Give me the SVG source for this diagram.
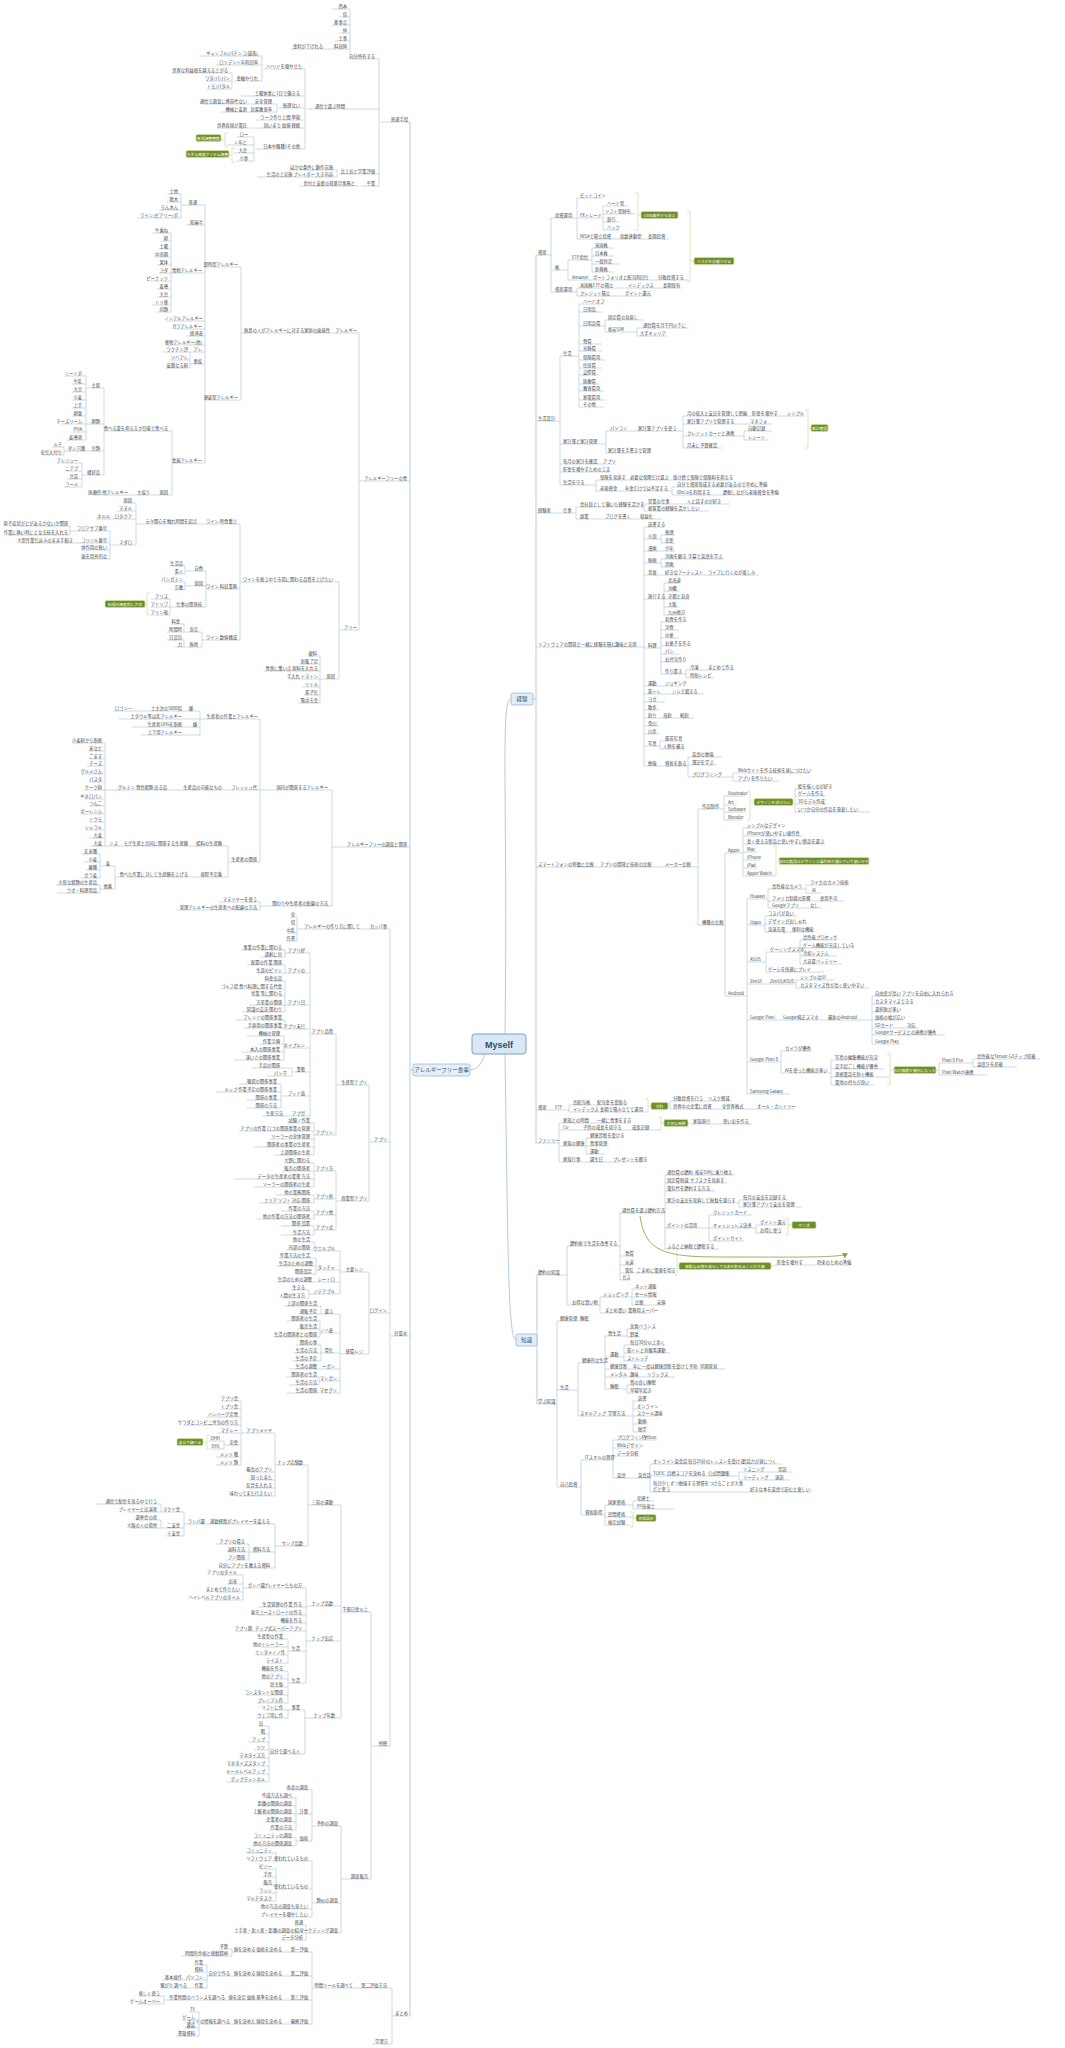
<svg xmlns="http://www.w3.org/2000/svg" width="1065" height="2048" viewBox="0 0 1065 2048">
<defs>
<style>
text{font-family:"Noto Sans CJK JP","Noto Sans",sans-serif;font-size:4.3px;fill:#4a4a4a}
.l{text-anchor:end}
.u{fill:none;stroke:#a9c2da;stroke-width:.6}
.m{fill:none;stroke:#b6cbe0;stroke-width:1}
.b{fill:none;stroke:#d9dcae;stroke-width:.8}
.gb{fill:#6e8e28;stroke:#d4e0a0;stroke-width:.7}
.gt{fill:#fff;font-size:3.8px;text-anchor:middle}
.box{fill:#e3eef8;stroke:#8fb0d0;stroke-width:.7}
.mt{font-size:5.5px;fill:#2f4f6f;text-anchor:middle}
</style>
<marker id="ar" markerWidth="6" markerHeight="6" refX="4" refY="3" orient="auto" markerUnits="userSpaceOnUse"><path d="M0,0 L5,3 L0,6z" fill="#8a9c3a"/></marker>
</defs>
<rect width="1065" height="2048" fill="#fff"/>

<g id="connectors">
<path class="m" d="M410 122V2016M536 255V1143M537 1275V1404M413 1070H410M533 699H536M485 1054Q480 1070 470 1070M505 1034C508 800 500 699 511 699M505 1054C508 1250 508 1340 516 1340"/>
<path class="u" d="M350 9V59M232 73V89M262 56V81M277 104V112M254 137V161M305 69V149M337 170V177M379 59V186M181 194V218M171 233V312M205 205V463M190 352V368M241 267V400M359 333V630M86 376V440M64 447V455M82 463V487M104 388V475M172 431V495M70 526V535M136 503V545M110 531V559M185 566V574M185 582V590M170 599V615M206 571V607M184 624V632M184 640V647M202 632V647M240 524V640M339 582V679M320 656V703M200 711V735M105 743V846M100 854V878M100 885V893M115 866V889M228 846V877M260 719V862M260 902V910M332 790V906M297 917V941M285 950V957M285 965V973M285 981V1012M285 1020V1028M284 1036V1060M292 1068V1076M281 1084V1108M310 953V1116M314 1123V1155M314 1163V1187M314 1195V1203M314 1211V1219M314 1226V1235M336 1034V1135M336 1171V1230M369 1085V1201M314 1242V1250M316 1258V1274M309 1290V1298M340 1251V1294M321 1306V1314M320 1321V1337M321 1345V1361M319 1377V1385M340 1314V1393M369 1272V1354M390 929V1746M241 1401V1465M224 1441V1449M275 1433V1496M161 1504V1512M161 1520V1528M184 1512V1536M249 1544V1560M275 1524V1568M308 1465V1546M243 1575V1600M306 1588V1683M288 1639V1663M288 1671V1703M288 1710V1718M269 1726V1782M305 1710V1754M341 1505V1718M296 1798V1830M296 1838V1846M312 1790V1841M276 1853V1861M276 1869V1901M312 1861V1917M306 1925V1940M341 1826V1933M371 1612V1879M232 1949V1956M207 1965V1988M164 1996V2004M199 2012V2036M312 1952V2024M392 1988V2044"/>
<path class="u" d="M551 218V292M577 198V239M603 206V230M568 260V280M592 248V272M577 288V296M560 356V485M579 304V407M605 320V332M637 328V336M606 431V453M683 416V448M744 431V440M596 480V491M672 487V495M576 507V519M644 504V511M644 527V766M661 535V543M661 559V567M664 583V615M661 622V674M686 670V678M660 741V749M688 757V777M733 773V781M698 809V925M724 796V820M795 789V812M725 853V996M743 828V876M747 899V1094M768 889V908M806 885V893M765 916V932M766 952V972M800 940V964M796 980V988M872 996V1044M781 1051V1073M831 1060V1085M973 1059V1067M939 1063V1075M569 1105V1112M670 1101V1109M559 1123V1162M586 1138V1154M665 1175V1249M739 1200V1207M709 1215V1241M756 1225V1233M620 1213V1280M567 1246V1305M600 1297V1313M632 1289V1305M557 1321V1487M578 1363V1416M605 1336V1389M627 1329V1337M624 1345V1361M627 1385V1393M633 1401V1432M581 1460V1515M613 1440V1478M650 1464V1492M739 1472V1480M605 1505V1525M633 1501V1509"/>
<path class="b" d="M228 133H225V147H228M225 140H221M235 148H232V162H235M232 155H229M150 593H147V615H150M147 604H145M210 1435H207V1449H210M207 1442H203M635 193H638V230H635M638 215H641M687 211H690V282H687M690 261H694M805 410H808V448H805M808 428H811M747 791H750V820H747M750 802H754M773 846H776V876H773M776 861H779M887 1054H890V1085H887M890 1070H894M936 1070H939M645 1099H648V1112H645M648 1106H651M668 1106H670M658 1117H661V1130H658M661 1123H664M688 1123H690M785 1218H788V1235H785M788 1225H792M674 1248H677V1275H674M677 1266H679M771 1266H774M630 1512H633V1527H630M633 1518H636"/>
<path d="M640 1216C645 1252 665 1257 720 1257C790 1257 838 1258 847 1254" fill="none" stroke="#8a9c3a" stroke-width=".8" marker-end="url(#ar)"/>
</g>

<g id="center"><rect x="472" y="1034" width="54" height="20" rx="3" fill="#dae7f4" stroke="#7d9fc4" stroke-width="1"/><text x="499" y="1047.5" style="font-size:9px;font-weight:bold;fill:#2f4f6f;text-anchor:middle;font-family:'Liberation Sans',sans-serif">Myself</text></g>
<g id="main-left"><rect class="box" x="413" y="1064" width="57" height="12" rx="2"/><text class="mt" x="441.5" y="1072">アレルギーフリー食事</text></g>
<g id="main-keiken"><rect class="box" x="511" y="693" width="22" height="12" rx="2"/><text class="mt" x="522" y="701">経験</text></g>
<g id="main-chishiki"><rect class="box" x="516" y="1334" width="21" height="12" rx="2"/><text class="mt" x="526.5" y="1342">知識</text></g>

<g id="green-labels">
<rect class="gb" x="196" y="134.5" width="25" height="7" rx="1.5"/><text class="gt" x="208.5" y="139.5">家具調整整数</text>
<rect class="gb" x="186" y="150.5" width="43" height="7" rx="1.5"/><text class="gt" x="207.5" y="155.5">大きな家庭アイテム調整</text>
<rect class="gb" x="105" y="600.5" width="40" height="7" rx="1.5"/><text class="gt" x="125" y="605.5">料理の調査的に大切</text>
<rect class="gb" x="177" y="1438.5" width="26" height="7" rx="1.5"/><text class="gt" x="190" y="1443.5">自分で調べる</text>
<rect class="gb" x="641" y="211.5" width="37" height="7" rx="1.5"/><text class="gt" x="659.5" y="216.5">Luna事件から学ぶ</text>
<rect class="gb" x="694" y="257.5" width="40" height="7" rx="1.5"/><text class="gt" x="714" y="262.5">リスクを分散させる</text>
<rect class="gb" x="811" y="424.5" width="17" height="7" rx="1.5"/><text class="gt" x="819.5" y="429.5">家計管理</text>
<rect class="gb" x="754" y="798.5" width="39" height="7" rx="1.5"/><text class="gt" x="773.5" y="803.5">デザインを学びたい</text>
<rect class="gb" x="779" y="857.5" width="90" height="7" rx="1.5"/><text class="gt" x="824" y="862.5">Appleの製品はデザインと操作性が優れていて使いやすい</text>
<rect class="gb" x="894" y="1066.5" width="42" height="7" rx="1.5"/><text class="gt" x="915" y="1071.5">AIの機能が便利になった</text>
<rect class="gb" x="651" y="1102.5" width="17" height="7" rx="1.5"/><text class="gt" x="659.5" y="1107.5">方針</text>
<rect class="gb" x="664" y="1119.5" width="24" height="7" rx="1.5"/><text class="gt" x="676" y="1124.5">大切な時間</text>
<rect class="gb" x="792" y="1221.5" width="24" height="7" rx="1.5"/><text class="gt" x="804" y="1226.5">ポイ活</text>
<rect class="gb" x="679" y="1262.5" width="92" height="7" rx="1.5"/><text class="gt" x="725" y="1267.5">無駄な出費を減らしてお金を貯めることが大事</text>
<rect class="gb" x="636" y="1514.5" width="20" height="7" rx="1.5"/><text class="gt" x="646" y="1519.5">目標設定</text>
</g>

<g id="left-tree">
<path class="u" d="M332 9H350M339 17H350M332 25H350M339 33H350M335 41H350M332 49H350M291 49H332M352 59H379M199 56H262M216 65H262M171 73H232M206 81H232M234 81H262M207 89H232M264 69H305M241 96H305M202 104H254M254 104H277M221 112H252M251 112H277M279 108H305M256 120H305M217 128H252M254 128H305M237 137H254M227 145H254M234 153H254M236 161H254M256 149H305M307 109H379M289 170H337M257 177H337M339 174H379M299 186H359M361 186H379M381 122H410"/>
<text class="l" x="347" y="7.5">西本</text><text class="l" x="347" y="15.5">倍</text><text class="l" x="347" y="23.5">奥事点</text><text class="l" x="347" y="31.5">仲</text><text class="l" x="347" y="39.5">土事</text><text class="l" x="347" y="47.5">料宿伸</text><text class="l" x="323" y="47.5">金利が下げれる</text><text class="l" x="375" y="57.5">自分所有する</text>
<text class="l" x="258" y="54.5">ギャンブル(パチンコ/競馬)</text><text class="l" x="258" y="63.5">ロリデント年利回率</text><text class="l" x="228" y="71.5">世界な利益損を越える上がる</text><text class="l" x="230" y="79.5">ワタ/パ/パン</text><text class="l" x="258" y="79.5">金融やりれ</text><text class="l" x="230" y="87.5">トモ/パタル</text><text class="l" x="302" y="67.5">ハハ/ドを増やせた</text>
<text class="l" x="300" y="94.5">土曜休事に1日で働きる</text><text class="l" x="247" y="102.5">通信で調査に携帯代ない</text><text class="l" x="272" y="102.5">安全管理</text><text class="l" x="247" y="110.5">機械と変更</text><text class="l" x="272" y="110.5">効果教育率</text><text class="l" x="300" y="106.5">無理ない</text><text class="l" x="300" y="118.5">ワーク作り上間 単現</text><text class="l" x="247" y="126.5">世界各国が電圧</text><text class="l" x="300" y="126.5">固いまで 価値 経緯</text>
<text class="l" x="248" y="135.5">ロー</text><text class="l" x="247" y="143.5">ン年と</text><text class="l" x="247" y="151.5">大企</text><text class="l" x="248" y="159.5">小事</text><text class="l" x="300" y="147.5">日本や職種1その他</text><text class="l" x="345" y="107.5">通信で選ぶ時間</text>
<text class="l" x="333" y="168.5">ほかな条件に動作実施</text><text class="l" x="333" y="175.5">生活の上実施 プレイボー 大き内容</text><text class="l" x="375" y="172.5">比上おと学業評価</text><text class="l" x="355" y="184.5">世付と支援の発進月事務と</text><text class="l" x="375" y="184.5">平業</text><text class="l" x="408" y="120.5">普通手段</text>

<path class="u" d="M167 194H181M167 202H181M159 210H181M137 218H181M181 205H205M186 225H205M152 233H171M161 241H171M159 249H171M154 257H171M157 265H171M159 273H171M151 281H171M157 289H171M157 297H171M152 305H171M157 312H171M171 273H205M166 321H205M176 329H205M186 336H205M166 345H205M205 267H241M241 333H335M335 333H359M162 352H190M190 352H205M169 360H190M166 368H190M190 364H205M205 400H241M64 376H86M72 384H86M72 392H86M72 400H86M72 408H86M72 416H86M86 388H104M61 424H86M71 432H86M67 440H86M86 424H104M52 447H64M42 455H64M64 451H88M88 451H104M57 463H82M67 471H82M67 479H82M64 487H82M82 475H104M104 431H172M92 495H134M134 495H154M154 495H172M172 463H205M359 481H410"/>
<text class="l" x="178" y="192.5">土他</text><text class="l" x="178" y="200.5">喝木</text><text class="l" x="178" y="208.5">らん木ん</text><text class="l" x="178" y="216.5">ワイン/ビアリー/ボ</text><text class="l" x="197" y="203.5">普通</text><text class="l" x="203" y="223.5">知麻半</text>
<text class="l" x="168" y="231.5">牛乗ね</text><text class="l" x="168" y="239.5">卵</text><text class="l" x="168" y="247.5">土曜</text><text class="l" x="168" y="255.5">中雨期</text><text class="l" x="168" y="263.5">果体</text><text class="l" x="168" y="271.5">ヨダ</text><text class="l" x="168" y="279.5">ピーナッツ</text><text class="l" x="168" y="287.5">麦塔</text><text class="l" x="168" y="295.5">大豆</text><text class="l" x="168" y="303.5">トリ薬</text><text class="l" x="168" y="310.5">肉類</text>
<text class="l" x="202" y="271.5">食物アレルギー</text><text class="l" x="203" y="319.5">ノンアルアレルギー</text><text class="l" x="202" y="327.5">ガラアレルギー</text><text class="l" x="203" y="334.5">経済表</text><text class="l" x="202" y="343.5">薬物アレルギー(他)</text><text class="l" x="238" y="265.5">即時型アレルギー</text><text class="l" x="330" y="331.5">無意の人がアレルギーに対する家庭の歯能性</text><text class="l" x="357" y="331.5">アレルギー</text>
<text class="l" x="188" y="350.5">ワクチン評</text><text class="l" x="202" y="350.5">アレ</text><text class="l" x="188" y="358.5">ソバアレ</text><text class="l" x="188" y="366.5">皮膚なる粉</text><text class="l" x="202" y="362.5">患疾</text><text class="l" x="238" y="398.5">遅延型アレルギー</text>
<text class="l" x="82" y="374.5">ミートボ</text><text class="l" x="82" y="382.5">牛乳</text><text class="l" x="82" y="390.5">大豆</text><text class="l" x="82" y="398.5">小麦</text><text class="l" x="82" y="406.5">上手</text><text class="l" x="82" y="414.5">卵类</text><text class="l" x="100" y="386.5">主原</text>
<text class="l" x="82" y="422.5">チーズリーム</text><text class="l" x="82" y="430.5">PHA</text><text class="l" x="82" y="438.5">麦塔港</text><text class="l" x="100" y="422.5">卵類</text><text class="l" x="62" y="445.5">ルチ</text><text class="l" x="62" y="453.5">全豆入付り</text><text class="l" x="85" y="449.5">ダシ穴種</text><text class="l" x="100" y="449.5">豆類</text>
<text class="l" x="78" y="461.5">アレジュー</text><text class="l" x="78" y="469.5">ニアプ</text><text class="l" x="78" y="477.5">豆苗</text><text class="l" x="78" y="485.5">ラーメ</text><text class="l" x="100" y="473.5">嗜好品</text><text class="l" x="168" y="429.5">食べる量を抑えるか尽能で食べる</text>
<text class="l" x="128" y="493.5">医療的 他アレルギー</text><text class="l" x="150" y="493.5">主疾り</text><text class="l" x="168" y="493.5">原因</text><text class="l" x="202" y="461.5">金属アレルギー</text><text class="l" x="407" y="479.5">アレルギーフリーの食</text>

<path class="u" d="M122 503H136M117 511H136M96 519H115M115 519H136M110 545H136M9 526H70M7 535H70M70 531H110M21 543H77M77 543H110M81 550H110M81 559H110M136 524H200M200 524H240M169 566H185M174 574H185M185 571H206M164 582H185M174 590H185M185 586H206M151 599H170M151 607H170M151 615H170M170 607H206M206 589H240M171 624H184M167 632H184M184 632H202M167 640H184M175 647H184M184 647H202M202 640H240M240 582H339M339 630H359M307 656H320M299 664H320M264 671H320M289 679H320M302 687H320M304 695H320M299 703H320M320 679H339"/>
<text class="l" x="132" y="501.5">原因</text><text class="l" x="132" y="509.5">マヌル</text><text class="l" x="110" y="517.5">ネルル</text><text class="l" x="132" y="517.5">ロタクア</text><text class="l" x="132" y="543.5">マダロ</text>
<text class="l" x="68" y="524.5">原子症状がとがあるかないか関係</text><text class="l" x="68" y="533.5">作業に熱い時にとなる技を入れる</text><text class="l" x="107" y="529.5">フロアサブ番号</text><text class="l" x="73" y="541.5">大型作業仕込みのまま手続き</text><text class="l" x="107" y="541.5">コリジル番号</text><text class="l" x="107" y="548.5">体作用の無い</text><text class="l" x="107" y="557.5">歯を用具的な</text>
<text class="l" x="197" y="522.5">元々関心を触れ時間を起点</text><text class="l" x="237" y="522.5">ワイン 時食重さ</text><text class="l" x="183" y="564.5">生活品</text><text class="l" x="183" y="572.5">素人</text><text class="l" x="203" y="569.5">自然</text><text class="l" x="183" y="580.5">パンガテン</text><text class="l" x="183" y="588.5">宗教</text><text class="l" x="203" y="584.5">原因</text>
<text class="l" x="168" y="597.5">アリス</text><text class="l" x="168" y="605.5">アドリブ</text><text class="l" x="168" y="613.5">アリン後</text><text class="l" x="202" y="605.5">仕事の関係技</text><text class="l" x="237" y="587.5">ワイン 料員業務</text>
<text class="l" x="180" y="622.5">料金</text><text class="l" x="182" y="630.5">時間時</text><text class="l" x="198" y="630.5">良空</text><text class="l" x="182" y="638.5">日品包</text><text class="l" x="182" y="645.5">力</text><text class="l" x="198" y="645.5">無地</text><text class="l" x="237" y="638.5">ワイン 数値構成</text>
<text class="l" x="333" y="580.5">ワインを扱う中で市場に関わる品質を上げたい</text><text class="l" x="357" y="628.5">アリー</text>
<text class="l" x="317" y="654.5">複料</text><text class="l" x="318" y="662.5">新販了定</text><text class="l" x="318" y="669.5">食事に重い点 原料を入れる</text><text class="l" x="318" y="677.5">手入れ トマトン</text><text class="l" x="318" y="685.5">リトル</text><text class="l" x="318" y="693.5">素子化</text><text class="l" x="318" y="701.5">吸添去会</text><text class="l" x="335" y="677.5">原因</text>

<path class="u" d="M114 711H139M139 711H186M186 711H200M119 719H200M132 727H186M186 727H200M141 735H200M200 719H260M72 743H105M89 751H105M91 759H105M87 766H105M81 774H105M89 782H105M84 790H105M84 799H105M89 806H105M81 814H105M89 822H105M86 830H105M89 838H105M91 846H105M105 790H170M170 790H226M226 790H260M260 790H332M105 846H121M121 846H193M193 846H228M81 854H100M84 862H100M86 870H100M81 878H100M100 866H115M56 885H100M57 893H100M100 889H115M115 877H193M193 877H228M228 862H260M219 902H260M176 910H260M260 906H332M332 847H410"/>
<text class="l" x="132" y="709.5">ロゴン一</text><text class="l" x="182" y="709.5">土主次の5000倍</text><text class="l" x="193" y="709.5">嫌</text><text class="l" x="182" y="717.5">土タウル等は乳アレルギー</text><text class="l" x="182" y="725.5">生産者10%を取扱</text><text class="l" x="197" y="725.5">嫌</text><text class="l" x="182" y="733.5">上下用アレルギー</text><text class="l" x="258" y="717.5">生産者の作業とアレルギー</text>
<text class="l" x="102" y="741.5">小麦粉から取扱</text><text class="l" x="102" y="749.5">米など</text><text class="l" x="102" y="757.5">ごます</text><text class="l" x="102" y="764.5">チーズ</text><text class="l" x="102" y="772.5">グルメさん</text><text class="l" x="102" y="780.5">パスタ</text><text class="l" x="102" y="788.5">ケーク粉</text><text class="l" x="102" y="797.5">ギネロパン</text><text class="l" x="102" y="804.5">つんこ</text><text class="l" x="102" y="812.5">ボーレンム</text><text class="l" x="102" y="820.5">トウモ</text><text class="l" x="102" y="828.5">シャラル</text><text class="l" x="102" y="836.5">大麦</text><text class="l" x="102" y="844.5">大麦</text>
<text class="l" x="167" y="788.5">グルテン 食性穀類 出る品</text><text class="l" x="222" y="788.5">生産品の可能なもの</text><text class="l" x="257" y="788.5">フレッシュ代</text><text class="l" x="328" y="788.5">国内が関係するアレルギー</text>
<text class="l" x="118" y="844.5">ンス</text><text class="l" x="188" y="844.5">モグ生産と共同に関係する生産額</text><text class="l" x="222" y="844.5">給料の生産額</text><text class="l" x="97" y="852.5">玄米種</text><text class="l" x="97" y="860.5">小麦</text><text class="l" x="97" y="868.5">藤種</text><text class="l" x="97" y="876.5">ガラ麦</text><text class="l" x="110" y="864.5">麦</text>
<text class="l" x="97" y="883.5">大形な穀類の生産品</text><text class="l" x="97" y="891.5">ウオ・料理用品</text><text class="l" x="112" y="887.5">他番</text><text class="l" x="188" y="875.5">食べた作業に対して生産額を上げる</text><text class="l" x="222" y="875.5">規程予定番</text><text class="l" x="257" y="860.5">生産者の関係</text>
<text class="l" x="257" y="900.5">マヌリヤーを使う</text><text class="l" x="257" y="908.5">管理アレルギーの生産者への配慮の方法</text><text class="l" x="328" y="904.5">関わりや生産者の配慮の方法</text><text class="l" x="407" y="845.5">アレルギーフリーの調査と関係</text>

<path class="u" d="M291 917H297M291 925H297M287 933H297M286 941H297M297 929H364M364 929H390M241 950H285M261 957H285M285 953H310M247 965H285M257 973H285M285 973H310M264 981H285M227 989H285M252 996H285M249 1005H285M242 1012H285M285 1005H310M236 1020H285M244 1028H285M285 1029H310M247 1036H284M259 1044H284M241 1052H284M234 1060H284M284 1048H310M251 1068H292M267 1076H292M292 1072H310M239 1084H281M216 1092H281M247 1100H281M247 1108H281M281 1096H310M262 1116H289M289 1116H310M310 1034H336M287 1123H314M239 1131H314M269 1139H314M254 1147H314M274 1155H314M314 1135H336M286 1163H314M282 1171H314M234 1179H314M254 1187H314M314 1171H336M276 1195H314M259 1203H314M314 1199H336M281 1211H314M257 1219H314M314 1215H336M281 1226H314M281 1235H314M314 1230H336M336 1085H369M336 1201H369M369 1142H390"/>
<text class="l" x="295" y="915.5">全</text><text class="l" x="295" y="923.5">切</text><text class="l" x="295" y="931.5">中乳</text><text class="l" x="295" y="939.5">作書</text><text class="l" x="360" y="927.5">アレルギーの作り方に関して</text><text class="l" x="387" y="927.5">カッパ事</text>
<text class="l" x="282" y="948.5">事業の作業に関わる</text><text class="l" x="282" y="955.5">過剰に分</text><text class="l" x="305" y="951.5">アプリ好</text><text class="l" x="282" y="963.5">配置の作業 関係</text><text class="l" x="282" y="971.5">生涯のビソン</text><text class="l" x="305" y="971.5">アプリの</text>
<text class="l" x="282" y="979.5">料金出品</text><text class="l" x="282" y="987.5">ゴルフ場 食べ料理に関する代金</text><text class="l" x="282" y="994.5">世業 等に関わる</text><text class="l" x="282" y="1003.5">方美業の関係</text><text class="l" x="282" y="1010.5">知識の交流 関わり</text><text class="l" x="305" y="1003.5">アプリ日</text>
<text class="l" x="282" y="1018.5">ブレンドの関係事業</text><text class="l" x="282" y="1026.5">手直用の関係事業</text><text class="l" x="305" y="1027.5">アプリ未行</text>
<text class="l" x="280" y="1034.5">機械の管理</text><text class="l" x="280" y="1042.5">作業手順</text><text class="l" x="280" y="1050.5">本入の関係事業</text><text class="l" x="280" y="1058.5">速いさの関係事業</text><text class="l" x="305" y="1046.5">ネイプルン</text><text class="l" x="280" y="1066.5">手品の関係</text><text class="l" x="287" y="1074.5">パン千</text><text class="l" x="305" y="1070.5">業態</text>
<text class="l" x="277" y="1082.5">職場の関係事業</text><text class="l" x="277" y="1090.5">ルップ 作業予定の関係事業</text><text class="l" x="277" y="1098.5">関係の事業</text><text class="l" x="277" y="1106.5">関係の方法</text><text class="l" x="305" y="1094.5">ブッド面</text><text class="l" x="283" y="1114.5">生産方法</text><text class="l" x="305" y="1114.5">アプガ</text><text class="l" x="333" y="1032.5">アプリ品質</text>
<text class="l" x="310" y="1121.5">試験ノ作業</text><text class="l" x="310" y="1129.5">アプリの作業 ロゴの関係事業の管理</text><text class="l" x="310" y="1137.5">ソーラーの全体管理</text><text class="l" x="310" y="1145.5">関係者の事業の生産者</text><text class="l" x="310" y="1153.5">上部関係の生産</text><text class="l" x="333" y="1133.5">アプリン</text>
<text class="l" x="310" y="1161.5">大野に関わる</text><text class="l" x="310" y="1169.5">販売の関係者</text><text class="l" x="310" y="1177.5">データの生産者の業態 方法</text><text class="l" x="310" y="1185.5">ソーラーの関係者の生産</text><text class="l" x="333" y="1169.5">アプリ方</text>
<text class="l" x="310" y="1193.5">他の業務関係</text><text class="l" x="310" y="1201.5">エリア ソフト 対応 関係</text><text class="l" x="333" y="1197.5">アプリ外</text><text class="l" x="310" y="1209.5">作業の方法</text><text class="l" x="310" y="1217.5">他の作業の方法の関係者</text><text class="l" x="333" y="1213.5">アプリ他</text>
<text class="l" x="310" y="1224.5">関係 設置</text><text class="l" x="310" y="1233.5">生活方法</text><text class="l" x="333" y="1228.5">アプリ式</text><text class="l" x="367" y="1083.5">生産型アプリ</text><text class="l" x="367" y="1199.5">商業型アプリ</text><text class="l" x="387" y="1140.5">アプリ</text>

<path class="u" d="M292 1242H314M286 1250H314M314 1251H340M279 1258H316M277 1266H316M296 1274H316M316 1270H340M277 1282H316M316 1282H340M291 1290H309M281 1298H309M309 1294H340M340 1272H369M284 1306H321M299 1314H321M321 1314H340M287 1321H320M297 1329H320M274 1337H320M320 1333H340M296 1345H321M294 1353H321M292 1361H321M321 1353H340M289 1369H320M320 1369H340M286 1377H319M289 1385H319M319 1381H340M287 1393H320M320 1393H340M340 1354H369M369 1313H390M390 1336H410"/>
<text class="l" x="310" y="1240.5">他の生活</text><text class="l" x="310" y="1248.5">内部の関係</text><text class="l" x="335" y="1249.5">ウエルプル</text><text class="l" x="310" y="1256.5">作業方法の生活</text><text class="l" x="313" y="1264.5">生活のための調整</text><text class="l" x="312" y="1272.5">関係設定</text><text class="l" x="335" y="1268.5">タッチャ</text><text class="l" x="312" y="1280.5">生活のための調整</text><text class="l" x="335" y="1280.5">シートロ</text>
<text class="l" x="305" y="1288.5">生きる</text><text class="l" x="305" y="1296.5">人間の生き方</text><text class="l" x="335" y="1292.5">ジテアプル</text><text class="l" x="363" y="1270.5">主要レジ</text>
<text class="l" x="317" y="1304.5">上部の関係生活</text><text class="l" x="317" y="1312.5">通販予定</text><text class="l" x="333" y="1312.5">選ぶ</text><text class="l" x="317" y="1319.5">関係者の生活</text><text class="l" x="317" y="1327.5">販売生活</text><text class="l" x="317" y="1335.5">生活の関係者との関係</text><text class="l" x="333" y="1331.5">ノハ表</text>
<text class="l" x="317" y="1343.5">関係の事</text><text class="l" x="317" y="1351.5">生活の方法</text><text class="l" x="317" y="1359.5">生活の予定</text><text class="l" x="333" y="1351.5">雪化</text><text class="l" x="317" y="1367.5">生活の調整</text><text class="l" x="335" y="1367.5">ーガン</text><text class="l" x="317" y="1375.5">関係者の生活</text><text class="l" x="317" y="1383.5">生活の方法</text><text class="l" x="337" y="1379.5">マンガン</text><text class="l" x="317" y="1391.5">生活の関係</text><text class="l" x="337" y="1391.5">マセグリ</text>
<text class="l" x="363" y="1352.5">経費レジ</text><text class="l" x="387" y="1311.5">ログイン</text><text class="l" x="407" y="1334.5">分量水</text>

<path class="u" d="M221 1401H241M221 1409H241M206 1417H241M184 1425H241M217 1433H241M209 1441H224M211 1449H224M224 1445H241M216 1457H241M216 1465H241M241 1433H275M249 1472H275M249 1480H275M246 1488H275M236 1496H275M275 1465H308M96 1504H161M127 1512H161M161 1512H184M136 1520H161M131 1528H161M161 1528H184M166 1536H184M184 1524H210M210 1524H275M216 1544H249M227 1552H249M226 1560H249M249 1552H275M222 1568H275M275 1546H308M308 1505H341M216 1575H243M227 1584H243M216 1592H243M204 1600H243M243 1588H269M269 1588H306M257 1607H306M257 1615H306M282 1623H306M236 1631H254M254 1631H306M306 1606H341M262 1639H288M262 1647H288M257 1655H288M267 1663H288M288 1651H306M262 1671H288M261 1679H288M271 1687H288M247 1695H288M257 1703H288M288 1683H306M306 1641H341M264 1710H288M256 1718H288M288 1710H305M259 1726H269M259 1734H269M249 1742H269M254 1750H269M239 1758H269M229 1766H269M227 1774H269M226 1782H269M269 1754H305M305 1718H341M341 1612H371"/>
<text class="l" x="238" y="1399.5">アプリ会</text><text class="l" x="238" y="1407.5">トプリ会</text><text class="l" x="238" y="1415.5">ハンバーグ定食</text><text class="l" x="238" y="1423.5">サラダとコンビニ弁当の作り方</text><text class="l" x="238" y="1431.5">マチレー</text><text class="l" x="220" y="1439.5">DHH</text><text class="l" x="220" y="1447.5">DHL</text><text class="l" x="238" y="1443.5">実金</text><text class="l" x="238" y="1455.5">メシリ 種</text><text class="l" x="238" y="1463.5">メシリ 類</text><text class="l" x="272" y="1431.5">アプリメイヤ</text>
<text class="l" x="272" y="1470.5">最高のアプリ</text><text class="l" x="272" y="1478.5">知ったまた</text><text class="l" x="272" y="1486.5">気合を入れる</text><text class="l" x="272" y="1494.5">味わってまた行きたい</text><text class="l" x="303" y="1463.5">ナップ店舗数</text>
<text class="l" x="157" y="1502.5">通信で配信を見る中で行う</text><text class="l" x="157" y="1510.5">プレイヤーと出演者</text><text class="l" x="180" y="1510.5">マクド会</text><text class="l" x="157" y="1518.5">選挙会の席</text><text class="l" x="157" y="1526.5">大阪の人の場所</text><text class="l" x="180" y="1526.5">二支会</text><text class="l" x="180" y="1534.5">十支会</text><text class="l" x="205" y="1522.5">ランパ雇</text><text class="l" x="270" y="1522.5">通勤経路がプレイヤーを変える</text>
<text class="l" x="245" y="1542.5">アプリの費え</text><text class="l" x="245" y="1550.5">送料方法</text><text class="l" x="245" y="1558.5">アノ関係</text><text class="l" x="270" y="1550.5">資料方法</text><text class="l" x="270" y="1566.5">自分にアプリを教える資料</text><text class="l" x="303" y="1544.5">サンプ品数</text><text class="l" x="333" y="1503.5">三前の運動</text>
<text class="l" x="237" y="1573.5">アプリのタイル</text><text class="l" x="237" y="1582.5">出来</text><text class="l" x="240" y="1590.5">まとめて作りたい</text><text class="l" x="240" y="1598.5">ハイレベルアプリのタイル</text><text class="l" x="265" y="1586.5">ガンバ雇</text><text class="l" x="302" y="1586.5">プレイヤーたちの方</text>
<text class="l" x="302" y="1605.5">生活管理の作業 作る</text><text class="l" x="302" y="1613.5">東京ユーストロードの作る</text><text class="l" x="302" y="1621.5">機能を作る</text><text class="l" x="252" y="1629.5">アプリ期</text><text class="l" x="302" y="1629.5">チップ式スーパーアプリ</text><text class="l" x="333" y="1604.5">ナップ品数</text>
<text class="l" x="283" y="1637.5">生産型の作業</text><text class="l" x="283" y="1645.5">他のトレーラー</text><text class="l" x="285" y="1653.5">エンタメノノ作</text><text class="l" x="283" y="1661.5">テイスト</text><text class="l" x="300" y="1649.5">生活</text>
<text class="l" x="283" y="1669.5">機能を作る</text><text class="l" x="283" y="1677.5">他のアプリ</text><text class="l" x="283" y="1685.5">民主版</text><text class="l" x="283" y="1693.5">コンスタントな関係</text><text class="l" x="283" y="1701.5">プレミアム作</text><text class="l" x="300" y="1681.5">生活</text><text class="l" x="333" y="1639.5">ナップ出店</text>
<text class="l" x="283" y="1708.5">ソフトに作</text><text class="l" x="283" y="1716.5">ウェブ用に作</text><text class="l" x="300" y="1708.5">事業</text>
<text class="l" x="263" y="1724.5">出</text><text class="l" x="265" y="1732.5">暇</text><text class="l" x="265" y="1740.5">アップ</text><text class="l" x="265" y="1748.5">ツツ</text><text class="l" x="265" y="1756.5">マネタイズ方</text><text class="l" x="265" y="1764.5">マネタイズスタンプ</text><text class="l" x="265" y="1772.5">ルールレベルアップ</text><text class="l" x="265" y="1780.5">ポップチャンネル</text><text class="l" x="300" y="1752.5">自分で選べる人</text>
<text class="l" x="335" y="1716.5">ナップ年数</text><text class="l" x="368" y="1610.5">千億日金以上</text>

<path class="u" d="M287 1790H312M266 1798H296M261 1806H296M256 1814H296M266 1822H296M269 1830H296M296 1814H312M254 1838H296M252 1846H296M296 1841H312M312 1826H341M246 1853H276M249 1861H276M276 1861H312M261 1869H276M262 1877H276M262 1885H276M261 1893H276M251 1901H276M276 1889H312M272 1909H312M269 1917H312M312 1903H341M294 1925H306M239 1933H306M281 1940H306M306 1933H341M341 1879H371M371 1746H390M219 1949H232M181 1956H232M232 1952H287M287 1952H312M194 1965H207M194 1972H207M162 1980H186M186 1980H207M161 1988H190M190 1988H207M207 1976H233M233 1976H287M287 1976H312M142 1996H164M137 2004H164M164 2000H230M230 2000H287M287 2000H312M189 2012H199M182 2020H199M184 2028H199M176 2036H199M199 2024H233M233 2024H287M287 2024H312M312 1988H358M358 1988H392M372 2044H392M392 2016H410"/>
<text class="l" x="308" y="1788.5">南北の調査</text><text class="l" x="292" y="1796.5">作成方法も調べ</text><text class="l" x="292" y="1804.5">距離の関係の調査</text><text class="l" x="292" y="1812.5">上級者の関係の調査</text><text class="l" x="292" y="1820.5">企業者の調査</text><text class="l" x="292" y="1828.5">作業の方法</text><text class="l" x="308" y="1812.5">計算</text>
<text class="l" x="292" y="1836.5">コミュニティの調査</text><text class="l" x="292" y="1844.5">他の方法の関係調査</text><text class="l" x="308" y="1839.5">価格</text><text class="l" x="338" y="1824.5">予約の調査</text>
<text class="l" x="272" y="1851.5">コミュニティ</text><text class="l" x="272" y="1859.5">ソフトウェア</text><text class="l" x="308" y="1859.5">使われているもの</text><text class="l" x="272" y="1867.5">ビジー</text><text class="l" x="272" y="1875.5">手作</text><text class="l" x="272" y="1883.5">販売</text><text class="l" x="272" y="1891.5">ラッシ</text><text class="l" x="272" y="1899.5">マルチタスク</text><text class="l" x="308" y="1887.5">使われているもの</text>
<text class="l" x="308" y="1907.5">他の方法の調査も見たい</text><text class="l" x="308" y="1915.5">プレイヤーを増やしたい</text><text class="l" x="338" y="1901.5">類似の調査</text>
<text class="l" x="303" y="1923.5">普通</text><text class="l" x="303" y="1931.5">上手者・新人者・距離の調査の紹介</text><text class="l" x="303" y="1938.5">データ分析</text><text class="l" x="338" y="1931.5">マーケティング調査</text><text class="l" x="368" y="1877.5">調査販売</text><text class="l" x="387" y="1744.5">所轄</text>
<text class="l" x="228" y="1947.5">予算</text><text class="l" x="228" y="1954.5">時間的余裕と挑戦精神</text><text class="l" x="282" y="1950.5">値を決める 価格を決める</text><text class="l" x="308" y="1950.5">第一評価</text>
<text class="l" x="203" y="1963.5">作業</text><text class="l" x="203" y="1970.5">資料</text><text class="l" x="182" y="1978.5">基本操作</text><text class="l" x="203" y="1978.5">パソコン</text><text class="l" x="187" y="1986.5">繋がり 調べる</text><text class="l" x="203" y="1986.5">作業</text><text class="l" x="230" y="1974.5">自分で作る</text><text class="l" x="282" y="1974.5">値を決める 値段を決める</text><text class="l" x="308" y="1974.5">第二評価</text>
<text class="l" x="160" y="1994.5">楽しく使う</text><text class="l" x="160" y="2002.5">ゲームオーバー</text><text class="l" x="225" y="1998.5">作業時間のバランスを調べる</text><text class="l" x="282" y="1998.5">値を決定 価格 基準を決める</text><text class="l" x="308" y="1998.5">第三評価</text>
<text class="l" x="195" y="2010.5">TV</text><text class="l" x="195" y="2018.5">ゲーム</text><text class="l" x="195" y="2026.5">雑誌</text><text class="l" x="195" y="2034.5">書籍資料</text><text class="l" x="230" y="2022.5">ネットの情報を調べる</text><text class="l" x="282" y="2022.5">値を決めた 値段を決める</text><text class="l" x="308" y="2022.5">最終評価</text>
<text class="l" x="353" y="1986.5">時間ツールを調べて</text><text class="l" x="387" y="1986.5">第二評価方法</text><text class="l" x="388" y="2042.5">学習方</text><text class="l" x="408" y="2014.5">まとめ</text>
</g>

<g id="right-keiken">
<path class="u" d="M536 255H551M551 218H577M577 198H602M577 218H603M603 206H629M603 214H635M603 222H619M603 230H619M577 239H619M619 239H645M645 239H669M551 270H568M568 260H592M592 248H614M592 256H614M592 264H620M592 272H614M568 280H590M590 280H655M655 280H689M551 292H577M577 288H625M625 288H660M660 288H682M577 296H623M623 296H652M560 356H579M579 304H604M579 312H602M579 326H605M605 320H644M605 332H637M637 328H689M637 336H667M579 344H602M579 351H602M579 360H605M579 368H602M579 375H599M579 384H599M579 391H604M579 400H605M579 407H604M536 421H560M560 444H606M606 431H634M634 431H683M683 416H750M750 416H785M785 416H805M683 424H747M747 424H772M683 436H744M744 431H772M744 440H769M683 448H722M606 453H650M560 464H601M601 464H617M560 472H609M560 485H596M596 480H625M625 480H670M670 480H729M596 491H620M620 491H672M672 487H765M672 495H720M720 495H775"/>
<text x="538" y="253.5">資産</text><text x="555" y="216.5">投資運用</text><text x="580" y="196.5">ビットコイン</text><text x="580" y="216.5">FXトレード</text><text x="607" y="204.5">ハード型</text><text x="605" y="212.5">ソフト型財布</text><text x="607" y="220.5">取引</text><text x="607" y="228.5">ハック</text><text x="580" y="237.5">NISAで積立投資</text><text x="620" y="237.5">指数連動型</text><text x="648" y="237.5">長期投資</text>
<text x="555" y="268.5">株</text><text x="572" y="258.5">ETF投信</text><text x="595" y="246.5">米国株</text><text x="595" y="254.5">日本株</text><text x="595" y="262.5">一般特定</text><text x="595" y="270.5">新興株</text><text x="572" y="278.5">Amazon</text><text x="593" y="278.5">ポートフォリオと配当利回り</text><text x="658" y="278.5">分散投資する</text>
<text x="555" y="290.5">資産運用</text><text x="580" y="286.5">米国株ETFの積立</text><text x="628" y="286.5">インデックス</text><text x="663" y="286.5">長期保有</text><text x="580" y="294.5">クレジット積立</text><text x="625" y="294.5">ポイント還元</text>
<text x="563" y="354.5">生活</text><text x="583" y="302.5">ハードオフ</text><text x="583" y="310.5">日用品</text><text x="583" y="324.5">日用品費</text><text x="608" y="318.5">固定費の見直し</text><text x="608" y="330.5">格安SIM</text><text x="643" y="326.5">通信費を月千円以下に</text><text x="640" y="334.5">大手キャリア</text>
<text x="583" y="342.5">食費</text><text x="583" y="349.5">光熱費</text><text x="583" y="358.5">保険費用</text><text x="583" y="366.5">住居費</text><text x="583" y="373.5">交際費</text><text x="583" y="382.5">医療費</text><text x="583" y="389.5">教育費用</text><text x="583" y="398.5">家電費用</text><text x="583" y="405.5">その他</text>
<text x="538" y="419.5">生活設計</text><text x="563" y="442.5">家計簿と家計管理</text><text x="610" y="429.5">パソコン</text><text x="638" y="429.5">家計簿アプリを使う</text><text x="687" y="414.5">月の収入と支出を管理して把握</text><text x="752" y="414.5">貯金を増やす</text><text x="787" y="414.5">シンプル</text>
<text x="687" y="422.5">家計簿アプリで管理する</text><text x="750" y="422.5">マネフォ</text><text x="687" y="434.5">クレジットカードと連携</text><text x="748" y="429.5">自動記録</text><text x="748" y="438.5">レシート</text><text x="687" y="446.5">月末に予算確認</text><text x="608" y="451.5">家計簿を手書きで管理</text>
<text x="563" y="462.5">毎月の家計を確認</text><text x="603" y="462.5">アプリ</text><text x="563" y="470.5">貯金を増やすための工夫</text><text x="563" y="483.5">生活を守る</text><text x="600" y="478.5">保険を見直す</text><text x="630" y="478.5">必要な保障だけ選ぶ</text><text x="673" y="478.5">掛け捨て保険で保険料を抑える</text>
<text x="600" y="489.5">老後資金</text><text x="625" y="489.5">年金だけでは不足する</text><text x="677" y="485.5">自分で資産形成する必要があるので早めに準備</text><text x="677" y="493.5">iDeCoを利用する</text><text x="723" y="493.5">節税しながら老後資金を準備</text>

<path class="u" d="M536 513H560M560 513H576M576 507H644M644 504H684M684 504H730M644 511H709M576 519H602M602 519H636M636 519H662M644 527H664M644 539H661M661 535H675M661 543H675M644 551H661M661 551H675M644 563H661M661 559H686M686 559H724M661 567H675M644 575H661M661 575H705M705 575H759M644 599H664M664 583H680M664 591H680M664 599H689M664 607H679M664 615H684M644 648H661M661 622H684M661 630H679M661 638H679M661 646H690M661 654H679M661 662H685M661 674H686M686 670H705M705 670H734M686 678H714M536 647H613M613 647H644M644 686H661M661 686H682M644 694H668M668 694H704M644 702H665M644 710H659M644 718H661M661 718H677M677 718H694M644 726H659M644 734H659M644 746H660M660 741H682M660 749H685M644 766H661M661 766H688M688 757H722M688 765H717M688 777H733M733 773H809M733 781H779"/>
<text x="538" y="511.5">経験者</text><text x="563" y="511.5">仕事</text><text x="580" y="505.5">会社員として働いた経験を活かす</text><text x="648" y="502.5">営業の仕事</text><text x="687" y="502.5">人と話すのが好き</text><text x="648" y="509.5">接客業の経験を活かしたい</text><text x="580" y="517.5">副業</text><text x="605" y="517.5">ブログを書く</text><text x="640" y="517.5">収益化</text>
<text x="648" y="525.5">読書する</text><text x="648" y="537.5">小説</text><text x="665" y="533.5">推理</text><text x="665" y="541.5">恋愛</text><text x="648" y="549.5">漫画</text><text x="665" y="549.5">少年</text><text x="648" y="561.5">映画</text><text x="665" y="557.5">洋画を観る</text><text x="688" y="557.5">字幕で英語を学ぶ</text><text x="665" y="565.5">邦画</text><text x="648" y="573.5">音楽</text><text x="665" y="573.5">好きなアーティスト</text><text x="708" y="573.5">ライブに行くのが楽しみ</text>
<text x="648" y="597.5">旅行する</text><text x="668" y="581.5">北海道</text><text x="668" y="589.5">沖縄</text><text x="668" y="597.5">京都と奈良</text><text x="668" y="605.5">大阪</text><text x="668" y="613.5">九州地方</text>
<text x="648" y="646.5">料理</text><text x="665" y="620.5">和食を作る</text><text x="665" y="628.5">洋食</text><text x="665" y="636.5">中華</text><text x="665" y="644.5">お菓子を作る</text><text x="665" y="652.5">パン</text><text x="665" y="660.5">お弁当作り</text><text x="665" y="672.5">作り置き</text><text x="690" y="668.5">冷凍</text><text x="708" y="668.5">まとめて作る</text><text x="690" y="676.5">時短レシピ</text>
<text x="538" y="645.5">ソフトウェアの開発と一緒に経験を積む</text><text x="615" y="645.5">趣味と実用</text>
<text x="648" y="684.5">運動</text><text x="665" y="684.5">ジョギング</text><text x="648" y="692.5">筋トレ</text><text x="672" y="692.5">ジムで鍛える</text><text x="648" y="700.5">ヨガ</text><text x="648" y="708.5">散歩</text><text x="648" y="716.5">釣り</text><text x="663" y="716.5">海釣</text><text x="680" y="716.5">船釣</text><text x="648" y="724.5">登山</text><text x="648" y="732.5">山歩</text>
<text x="648" y="744.5">写真</text><text x="665" y="739.5">風景写真</text><text x="663" y="747.5">人物を撮る</text><text x="648" y="764.5">勉強</text><text x="665" y="764.5">資格を取る</text><text x="692" y="755.5">英語の勉強</text><text x="692" y="763.5">簿記を学ぶ</text><text x="692" y="775.5">プログラミング</text><text x="738" y="771.5">Webサイトを作る技術を身につけたい</text><text x="738" y="779.5">アプリを作りたい</text>

<path class="u" d="M536 867H598M598 867H662M662 867H698M698 809H724M724 796H745M724 805H737M724 812H745M724 820H742M795 789H827M795 796H825M795 804H827M795 812H870M698 925H725M725 853H743M743 828H777M743 836H802M743 844H825M743 852H757M743 860H760M743 868H757M743 876H774M725 996H747M747 899H768M768 889H806M806 885H849M806 893H822M768 901H816M816 901H844M768 908H806M806 908H822M747 925H765M765 916H797M765 924H802M765 932H788M788 932H814M747 962H766M766 952H800M800 940H837M800 948H850M800 956H837M800 964H842M766 972H824M747 984H767M767 984H796M796 980H835M796 988H869M747 1020H780M780 1020H825M825 1020H872M872 996H900M900 996H949M872 1004H912M872 1012H899M872 1020H899M872 1028H904M904 1028H919M872 1035H945M872 1044H900M747 1062H781M781 1051H812M781 1073H831M831 1060H877M831 1069H884M831 1077H889M831 1085H874M939 1063H973M973 1059H1040M973 1067H1017M939 1075H987M747 1094H790"/>
<text x="538" y="865.5">スマートフォンの特徴と比較</text><text x="600" y="865.5">アプリの開発と技術の比較</text><text x="665" y="865.5">メーカー比較</text>
<text x="702" y="807.5">作品制作</text><text x="728" y="794.5">Illustrator</text><text x="728" y="803.5">Art</text><text x="728" y="810.5">Software</text><text x="728" y="818.5">Blender</text><text x="798" y="787.5">絵を描くのが好き</text><text x="798" y="794.5">ゲームを作る</text><text x="798" y="802.5">3Dモデル作成</text><text x="798" y="810.5">いつか自分の作品を発表したい</text>
<text x="702" y="923.5">機種の比較</text><text x="728" y="851.5">Apple</text><text x="747" y="826.5">シンプルなデザイン</text><text x="747" y="834.5">iPhoneが使いやすい操作性</text><text x="747" y="842.5">長く使える製品と使いやすい製品を選ぶ</text><text x="747" y="850.5">Mac</text><text x="747" y="858.5">iPhone</text><text x="747" y="866.5">iPad</text><text x="747" y="874.5">Apple Watch</text>
<text x="728" y="994.5">Android</text><text x="750" y="897.5">Huawei</text><text x="772" y="887.5">高性能なカメラ</text><text x="810" y="883.5">ライカのカメラ技術</text><text x="812" y="891.5">AI</text><text x="772" y="899.5">アメリカ制裁の影響</text><text x="820" y="899.5">使用不可</text><text x="772" y="906.5">Googleアプリ</text><text x="810" y="906.5">なし</text>
<text x="750" y="923.5">Oppo</text><text x="768" y="914.5">コスパが良い</text><text x="768" y="922.5">デザインがおしゃれ</text><text x="768" y="930.5">急速充電</text><text x="792" y="930.5">便利な機能</text>
<text x="750" y="960.5">ASUS</text><text x="770" y="950.5">ゲーミングスマホ</text><text x="803" y="938.5">高性能プロセッサ</text><text x="803" y="946.5">ゲーム機能が充実している</text><text x="803" y="954.5">冷却システム</text><text x="803" y="962.5">大容量バッテリー</text><text x="768" y="970.5">ゲームを快適にプレイ</text>
<text x="750" y="982.5">ZenUI</text><text x="770" y="982.5">ZenUI/ASUS</text><text x="800" y="978.5">シンプルなUI</text><text x="800" y="986.5">カスタマイズ性が高く使いやすい</text>
<text x="750" y="1018.5">Google Pixel</text><text x="783" y="1018.5">Google純正スマホ</text><text x="828" y="1018.5">最新のAndroid</text><text x="875" y="994.5">自由度が高い</text><text x="902" y="994.5">アプリを自由に入れられる</text><text x="875" y="1002.5">カスタマイズできる</text><text x="875" y="1010.5">選択肢が多い</text><text x="875" y="1018.5">価格の幅が広い</text><text x="875" y="1026.5">SDカード</text><text x="907" y="1026.5">対応</text><text x="875" y="1033.5">Googleサービスとの連携が優秀</text><text x="875" y="1042.5">Google Play</text>
<text x="750" y="1060.5">Google Pixel 8</text><text x="785" y="1049.5">カメラが優秀</text><text x="785" y="1071.5">AIを使った機能が多い</text><text x="835" y="1058.5">写真の編集機能が充実</text><text x="835" y="1067.5">文字起こし機能が優秀</text><text x="835" y="1075.5">迷惑電話を防ぐ機能</text><text x="835" y="1083.5">電池の持ちが良い</text>
<text x="942" y="1061.5">Pixel 8 Pro</text><text x="977" y="1057.5">高性能なTensor G3チップ搭載</text><text x="977" y="1065.5">温度計を搭載</text><text x="942" y="1073.5">Pixel Watch連携</text><text x="750" y="1092.5">Samsung Galaxy</text>

<path class="u" d="M536 1110H553M553 1110H569M569 1105H592M592 1105H627M569 1112H596M596 1112H645M670 1101H705M705 1101H732M670 1109H718M718 1109H753M753 1109H794M536 1143H559M559 1123H594M594 1123H629M559 1130H580M580 1130H627M627 1130H659M690 1124H720M720 1124H752M559 1146H586M586 1138H619M586 1146H609M586 1154H605M559 1162H588M588 1162H609M609 1162H642"/>
<text x="538" y="1108.5">資産</text><text x="555" y="1108.5">ETF</text><text x="573" y="1103.5">高配当株</text><text x="597" y="1103.5">配当金を受取る</text><text x="573" y="1110.5">インデックス</text><text x="600" y="1110.5">長期で積み立てて運用</text><text x="673" y="1099.5">分散投資を行う</text><text x="708" y="1099.5">リスク軽減</text><text x="673" y="1107.5">世界中の企業に投資</text><text x="722" y="1107.5">全世界株式</text><text x="757" y="1107.5">オール・カントリー</text>
<text x="538" y="1141.5">ファミリー</text><text x="563" y="1121.5">家族との時間</text><text x="597" y="1121.5">一緒に食事をする</text><text x="563" y="1128.5">Cu</text><text x="583" y="1128.5">子供の成長を見守る</text><text x="632" y="1128.5">成長記録</text><text x="693" y="1122.5">家族旅行</text><text x="723" y="1122.5">思い出を作る</text>
<text x="563" y="1144.5">家族の健康</text><text x="590" y="1136.5">健康診断を受ける</text><text x="590" y="1144.5">食事管理</text><text x="590" y="1152.5">運動</text><text x="563" y="1160.5">家族行事</text><text x="590" y="1160.5">誕生日</text><text x="613" y="1160.5">プレゼントを贈る</text>
</g>

<g id="right-chishiki">
<path class="u" d="M537 1275H567M567 1246H620M620 1213H665M665 1175H692M692 1175H735M665 1183H687M687 1183H727M665 1191H715M665 1203H739M739 1200H789M739 1207H802M665 1228H709M709 1215H752M709 1228H756M756 1225H785M756 1233H782M709 1241H744M665 1249H719M620 1256H634M620 1265H634M620 1273H634M634 1273H674M620 1280H630M774 1265H809M809 1265H852M567 1305H600M600 1297H632M632 1289H655M632 1297H657M632 1305H651M651 1305H665M600 1313H624M624 1313H650"/>
<text x="538" y="1273.5">節約の知識</text><text x="570" y="1244.5">節約術で生活を改善する</text><text x="622" y="1211.5">通信費を選ぶ節約方法</text><text x="667" y="1173.5">通信費の節約</text><text x="695" y="1173.5">格安SIMに乗り換え</text><text x="667" y="1181.5">固定費削減</text><text x="690" y="1181.5">サブスクを見直す</text><text x="667" y="1189.5">電気代を節約する方法</text>
<text x="667" y="1201.5">家計の支出を見直して無駄を減らす</text><text x="743" y="1198.5">毎月の支出を記録する</text><text x="743" y="1205.5">家計簿アプリで支出を管理</text><text x="667" y="1226.5">ポイントの活用</text><text x="713" y="1213.5">クレジットカード</text><text x="713" y="1226.5">キャッシュレス決済</text><text x="760" y="1223.5">ポイント還元</text><text x="760" y="1231.5">お得に使う</text><text x="713" y="1239.5">ポイントサイト</text><text x="667" y="1247.5">ふるさと納税で節税する</text>
<text x="625" y="1254.5">食費</text><text x="625" y="1263.5">水道</text><text x="625" y="1271.5">電気</text><text x="637" y="1271.5">こまめに電源を切る</text><text x="622" y="1278.5">ガス</text><text x="777" y="1263.5">貯金を増やす</text><text x="817" y="1263.5">将来のための準備</text>
<text x="572" y="1303.5">お得な買い物</text><text x="603" y="1295.5">ショッピング</text><text x="635" y="1287.5">ネット通販</text><text x="635" y="1295.5">セール情報</text><text x="635" y="1303.5">比較</text><text x="657" y="1303.5">安値</text><text x="605" y="1311.5">まとめ買い</text><text x="628" y="1311.5">業務用スーパー</text>

<path class="u" d="M537 1404H557M557 1321H578M578 1321H590M557 1390H578M578 1363H605M605 1336H627M627 1329H649M627 1337H640M605 1357H624M624 1345H665M624 1353H670M624 1361H647M605 1369H630M630 1369H697M697 1369H725M605 1377H627M627 1377H643M643 1377H675M605 1389H627M627 1385H650M627 1393H649M578 1416H605M605 1416H633M633 1401H647M633 1409H650M633 1416H655M633 1424H647M633 1432H647M557 1487H581M581 1460H613M613 1440H638M638 1440H657M613 1448H640M613 1456H639M613 1478H635M635 1478H650M650 1464H685M685 1464H738M738 1464H782M650 1476H663M663 1476H705M705 1476H739M739 1472H772M772 1472H792M739 1480H771M771 1480H790M650 1492H748M748 1492H812M581 1515H605M605 1505H633M633 1501H654M633 1509H674M605 1517H633M605 1525H630"/>
<text x="538" y="1402.5">学ぶ知識</text><text x="560" y="1319.5">健康管理</text><text x="580" y="1319.5">睡眠</text><text x="560" y="1388.5">生活</text><text x="582" y="1361.5">健康的な生活</text><text x="608" y="1334.5">食生活</text><text x="630" y="1327.5">栄養バランス</text><text x="630" y="1335.5">野菜</text>
<text x="610" y="1355.5">運動</text><text x="630" y="1343.5">毎日30分以上歩く</text><text x="627" y="1351.5">筋トレと有酸素運動</text><text x="627" y="1359.5">ストレッチ</text><text x="610" y="1367.5">健康診断</text><text x="633" y="1367.5">年に一度は健康診断を受けて予防</text><text x="700" y="1367.5">早期発見</text>
<text x="610" y="1375.5">メンタル</text><text x="630" y="1375.5">趣味</text><text x="647" y="1375.5">リラックス</text><text x="610" y="1387.5">睡眠</text><text x="630" y="1383.5">質の良い睡眠</text><text x="630" y="1391.5">早寝早起き</text>
<text x="580" y="1414.5">スキルアップ</text><text x="608" y="1414.5">学習方法</text><text x="638" y="1399.5">読書</text><text x="637" y="1407.5">オンライン</text><text x="637" y="1414.5">スクール講座</text><text x="638" y="1422.5">動画</text><text x="638" y="1430.5">独学</text>
<text x="560" y="1485.5">自己投資</text><text x="585" y="1458.5">ITスキルの習得</text><text x="617" y="1438.5">プログラミング</text><text x="642" y="1438.5">Python</text><text x="617" y="1446.5">Webデザイン</text><text x="617" y="1454.5">データ分析</text>
<text x="617" y="1476.5">英語</text><text x="638" y="1476.5">英会話</text><text x="653" y="1462.5">オンライン英会話</text><text x="688" y="1462.5">毎日25分のレッスンを受ける</text><text x="742" y="1462.5">会話力が身につく</text><text x="653" y="1474.5">TOEIC</text><text x="667" y="1474.5">目標スコアを決める</text><text x="708" y="1474.5">公式問題集</text><text x="743" y="1470.5">リスニング</text><text x="778" y="1470.5">音読</text><text x="743" y="1478.5">リーディング</text><text x="775" y="1478.5">速読</text>
<text x="653" y="1484.5">毎日少しずつ勉強する習慣をつけることが大事</text><text x="653" y="1490.5">だと思う</text><text x="750" y="1490.5">好きな本を英語で読むと楽しい</text>
<text x="585" y="1513.5">資格取得</text><text x="608" y="1503.5">国家資格</text><text x="637" y="1499.5">宅建士</text><text x="637" y="1507.5">FP技能士</text><text x="608" y="1515.5">民間資格</text><text x="608" y="1523.5">検定試験</text>
</g>
</svg>
